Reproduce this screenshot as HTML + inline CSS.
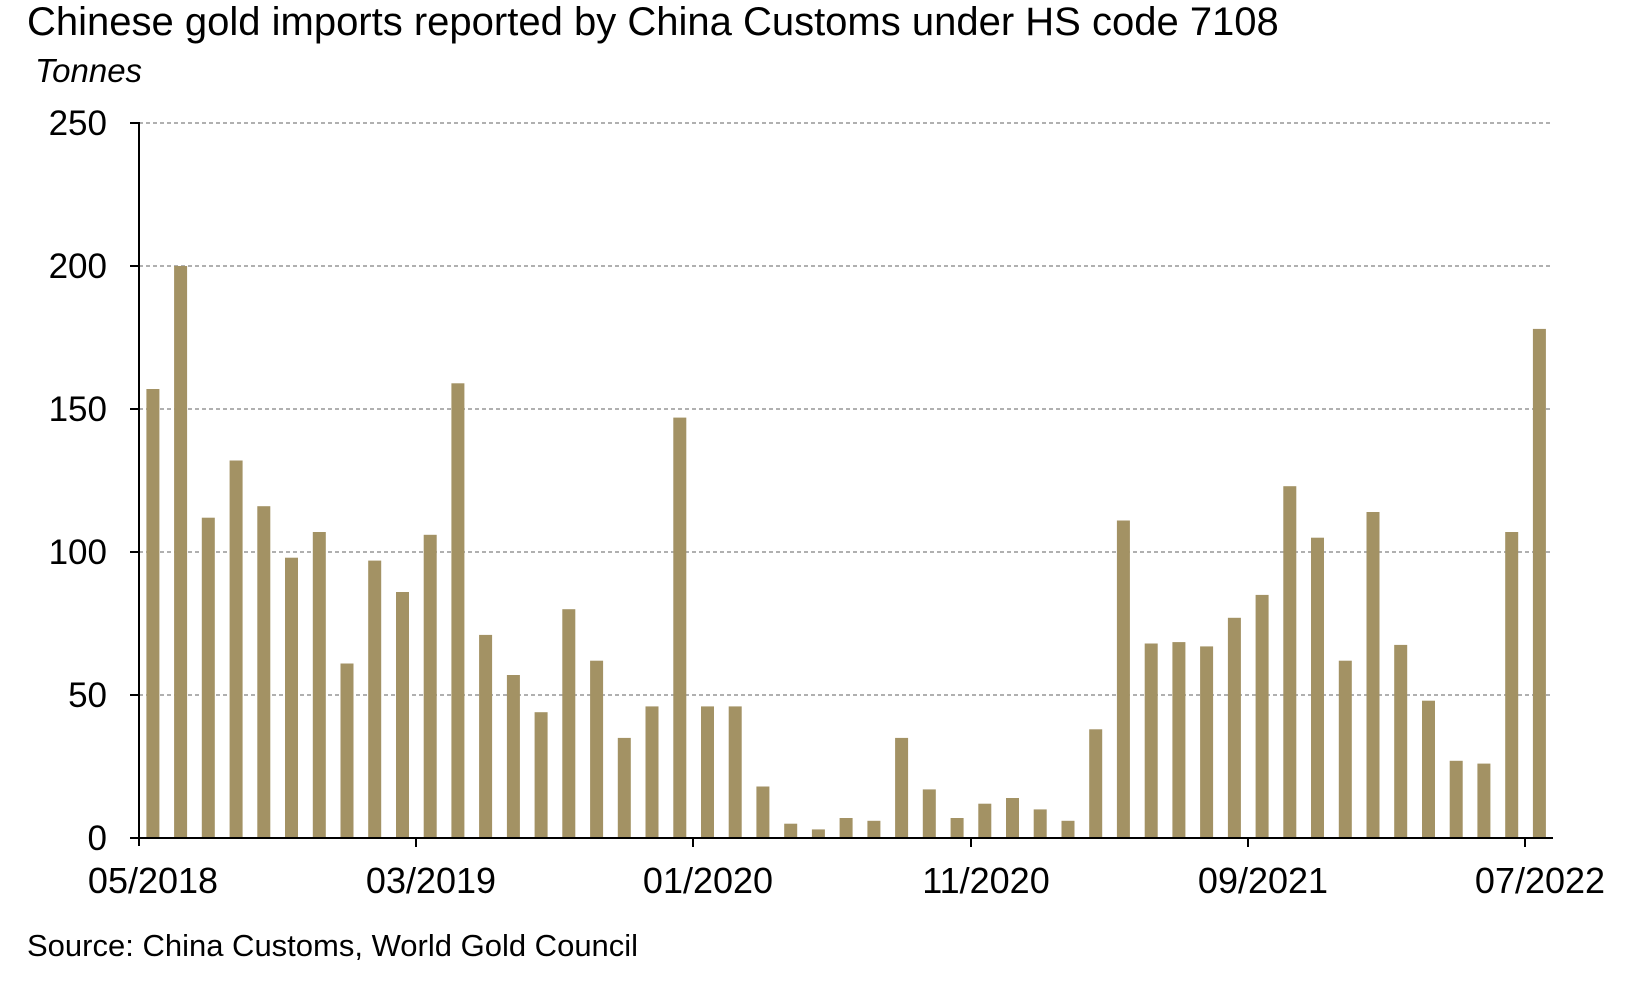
<!DOCTYPE html>
<html><head><style>
html,body{margin:0;padding:0;background:#fff;}
svg{display:block;font-family:"Liberation Sans",Arial,sans-serif;}
</style></head><body>
<svg width="1650" height="1007" viewBox="0 0 1650 1007" xmlns="http://www.w3.org/2000/svg">
<rect width="1650" height="1007" fill="#fff"/>
<text x="27" y="35" font-size="40" fill="#000">Chinese gold imports reported by China Customs under HS code 7108</text>
<text x="35" y="82" font-size="33" font-style="italic" fill="#000">Tonnes</text>
<g stroke="#808080" stroke-width="1.3" stroke-dasharray="4,3">
<line x1="139" y1="123" x2="1553" y2="123"/>
<line x1="139" y1="266" x2="1553" y2="266"/>
<line x1="139" y1="409" x2="1553" y2="409"/>
<line x1="139" y1="552" x2="1553" y2="552"/>
<line x1="139" y1="695" x2="1553" y2="695"/>
</g>
<g font-size="35" text-anchor="end" fill="#000">
<text x="107" y="135">250</text>
<text x="107" y="278">200</text>
<text x="107" y="421">150</text>
<text x="107" y="564">100</text>
<text x="107" y="707">50</text>
<text x="107" y="850">0</text>
</g>
<g fill="#a39264">
<rect x="146.4" y="389.0" width="13" height="449.0"/>
<rect x="174.1" y="266.0" width="13" height="572.0"/>
<rect x="201.8" y="517.7" width="13" height="320.3"/>
<rect x="229.6" y="460.5" width="13" height="377.5"/>
<rect x="257.3" y="506.2" width="13" height="331.8"/>
<rect x="285.0" y="557.7" width="13" height="280.3"/>
<rect x="312.8" y="532.0" width="13" height="306.0"/>
<rect x="340.5" y="663.5" width="13" height="174.5"/>
<rect x="368.2" y="560.6" width="13" height="277.4"/>
<rect x="396.0" y="592.0" width="13" height="246.0"/>
<rect x="423.7" y="534.8" width="13" height="303.2"/>
<rect x="451.4" y="383.3" width="13" height="454.7"/>
<rect x="479.1" y="634.9" width="13" height="203.1"/>
<rect x="506.9" y="675.0" width="13" height="163.0"/>
<rect x="534.6" y="712.2" width="13" height="125.8"/>
<rect x="562.3" y="609.2" width="13" height="228.8"/>
<rect x="590.1" y="660.7" width="13" height="177.3"/>
<rect x="617.8" y="737.9" width="13" height="100.1"/>
<rect x="645.5" y="706.4" width="13" height="131.6"/>
<rect x="673.3" y="417.6" width="13" height="420.4"/>
<rect x="701.0" y="706.4" width="13" height="131.6"/>
<rect x="728.7" y="706.4" width="13" height="131.6"/>
<rect x="756.4" y="786.5" width="13" height="51.5"/>
<rect x="784.2" y="823.7" width="13" height="14.3"/>
<rect x="811.9" y="829.4" width="13" height="8.6"/>
<rect x="839.6" y="818.0" width="13" height="20.0"/>
<rect x="867.4" y="820.8" width="13" height="17.2"/>
<rect x="895.1" y="737.9" width="13" height="100.1"/>
<rect x="922.8" y="789.4" width="13" height="48.6"/>
<rect x="950.6" y="818.0" width="13" height="20.0"/>
<rect x="978.3" y="803.7" width="13" height="34.3"/>
<rect x="1006.0" y="798.0" width="13" height="40.0"/>
<rect x="1033.7" y="809.4" width="13" height="28.6"/>
<rect x="1061.5" y="820.8" width="13" height="17.2"/>
<rect x="1089.2" y="729.3" width="13" height="108.7"/>
<rect x="1116.9" y="520.5" width="13" height="317.5"/>
<rect x="1144.7" y="643.5" width="13" height="194.5"/>
<rect x="1172.4" y="642.1" width="13" height="195.9"/>
<rect x="1200.1" y="646.4" width="13" height="191.6"/>
<rect x="1227.9" y="617.8" width="13" height="220.2"/>
<rect x="1255.6" y="594.9" width="13" height="243.1"/>
<rect x="1283.3" y="486.2" width="13" height="351.8"/>
<rect x="1311.0" y="537.7" width="13" height="300.3"/>
<rect x="1338.8" y="660.7" width="13" height="177.3"/>
<rect x="1366.5" y="512.0" width="13" height="326.0"/>
<rect x="1394.2" y="644.9" width="13" height="193.1"/>
<rect x="1422.0" y="700.7" width="13" height="137.3"/>
<rect x="1449.7" y="760.8" width="13" height="77.2"/>
<rect x="1477.4" y="763.6" width="13" height="74.4"/>
<rect x="1505.2" y="532.0" width="13" height="306.0"/>
<rect x="1532.9" y="328.9" width="13" height="509.1"/>
</g>
<g stroke="#000" stroke-width="2">
<line x1="139" y1="122" x2="139" y2="846"/>
<line x1="130" y1="123" x2="139" y2="123"/>
<line x1="130" y1="266" x2="139" y2="266"/>
<line x1="130" y1="409" x2="139" y2="409"/>
<line x1="130" y1="552" x2="139" y2="552"/>
<line x1="130" y1="695" x2="139" y2="695"/>
<line x1="130" y1="838" x2="139" y2="838"/>
<line x1="139" y1="838" x2="1553" y2="838"/>
<line x1="416" y1="838" x2="416" y2="847"/>
<line x1="693" y1="838" x2="693" y2="847"/>
<line x1="971" y1="838" x2="971" y2="847"/>
<line x1="1248" y1="838" x2="1248" y2="847"/>
<line x1="1525" y1="838" x2="1525" y2="847"/>
</g>
<g font-size="36" text-anchor="middle" fill="#000">
<text x="153" y="893">05/2018</text>
<text x="431" y="893">03/2019</text>
<text x="708" y="893">01/2020</text>
<text x="986" y="893">11/2020</text>
<text x="1263" y="893">09/2021</text>
<text x="1540" y="893">07/2022</text>
</g>
<text x="27" y="956" font-size="31" fill="#000">Source: China Customs, World Gold Council</text>
</svg>
</body></html>
